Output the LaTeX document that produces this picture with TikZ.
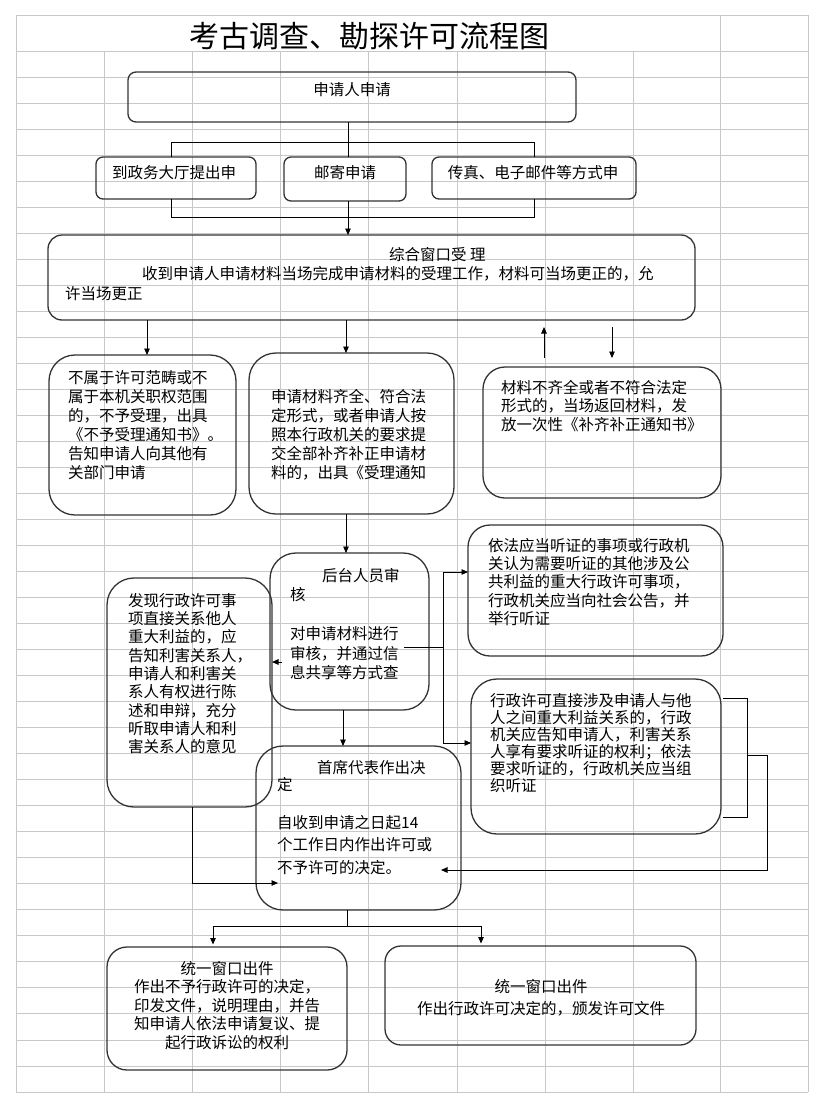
\documentclass[tikz,border=0pt]{standalone}
\usepackage{fontspec}
\setmainfont{Noto Sans CJK SC}
\usetikzlibrary{arrows.meta,calc}
\definecolor{gridc}{HTML}{C8C8C8}
\definecolor{boxc}{HTML}{333333}
\newcommand{\tp}{\rule{0pt}{14pt}}
\begin{document}
\begin{tikzpicture}[x=1pt,y=-1pt,
 box/.style={draw=boxc, line width=1.3pt, inner sep=0pt, outer sep=0pt},
 txt/.style={inner sep=0pt, align=left, anchor=north west},
 ctxt/.style={inner sep=0pt, font=\fontsize{15.5}{19}\selectfont},
 con/.style={draw=black, line width=0.9pt},
 arr/.style={con, -{Triangle[length=6.5pt,width=5.5pt]}},
 gridline/.style={draw=gridc, line width=0.9pt}]
\useasboundingbox (0,0) rectangle (823,1108);
% spreadsheet grid
\foreach \x in {104,192,280,368,457,545,633} \draw[gridline] (\x,51) -- (\x,1092);
\foreach \x in {16,720,808} \draw[gridline] (\x,15) -- (\x,1092);
\draw[gridline] (16,15) -- (808,15);
\foreach \k in {0,...,40} \draw[gridline] (16,{51+26.025*\k}) -- (808,{51+26.025*\k});
% title
\node[inner sep=0pt, font=\fontsize{30}{30}\selectfont] (title) at (369,36) {考古调查、勘探许可流程图};
% boxes
\node[box, minimum width=448pt, minimum height=50pt, rounded corners=8pt] (b1) at (352,97) {};
\node[box, minimum width=160pt, minimum height=42pt, rounded corners=7pt] (b2a) at (176,178) {};
\node[box, minimum width=122pt, minimum height=44pt, rounded corners=7pt] (b2b) at (345,179) {};
\node[box, minimum width=204pt, minimum height=42pt, rounded corners=7pt] (b2c) at (534,178) {};
\node[box, minimum width=647pt, minimum height=85pt, rounded corners=14pt] (b3) at (371.5,277.5) {};
\node[box, minimum width=187pt, minimum height=160pt, rounded corners=26pt] (b4) at (142.5,435) {};
\node[box, minimum width=205pt, minimum height=161pt, rounded corners=27pt] (b5) at (351.5,433.5) {};
\node[box, minimum width=238pt, minimum height=131pt, rounded corners=22pt] (b6) at (602,432.5) {};
\node[box, minimum width=159pt, minimum height=157pt, rounded corners=26pt] (b7) at (349.5,631.5) {};
\node[box, minimum width=165pt, minimum height=229pt, rounded corners=27pt] (b8) at (189.5,692.5) {};
\node[box, minimum width=205pt, minimum height=164pt, rounded corners=27pt] (b9) at (358.5,828) {};
\node[box, minimum width=255pt, minimum height=131pt, rounded corners=22pt] (b10) at (595.5,590.5) {};
\node[box, minimum width=250pt, minimum height=155pt, rounded corners=26pt] (b11) at (596,756.5) {};
\node[box, minimum width=240pt, minimum height=123pt, rounded corners=20pt] (b12) at (227,1008.5) {};
\node[box, minimum width=311pt, minimum height=99pt, rounded corners=16pt] (b13) at (540.5,995.5) {};
% texts
\node[ctxt] (t1) at (352,90) {申请人申请};
\node[ctxt] (t2a) at (174,173) {到政务大厅提出申};
\node[ctxt] (t2b) at (345,173) {邮寄申请};
\node[ctxt] (t2c) at (533,173) {传真、电子邮件等方式申};
\node[txt, font=\fontsize{15.5}{19.5}\selectfont] (t3) at (65,245.9) {\tp\hspace*{324pt}综合窗口受 理\\\hspace*{77pt}收到申请人申请材料当场完成申请材料的受理工作，材料可当场更正的，允\\许当场更正};
\node[txt, font=\fontsize{15.5}{19}\selectfont] (t4) at (68,368.9) {\tp 不属于许可范畴或不\\属于本机关职权范围\\的，不予受理，出具\\《不予受理通知书》。\\告知申请人向其他有\\关部门申请};
\node[txt, font=\fontsize{15.5}{19.2}\selectfont] (t5) at (271,387.9) {\tp 申请材料齐全、符合法\\定形式，或者申请人按\\照本行政机关的要求提\\交全部补齐补正申请材\\料的，出具《受理通知};
\node[txt, font=\fontsize{15.5}{18.7}\selectfont] (t6) at (501,378.9) {\tp 材料不齐全或者不符合法定\\形式的，当场返回材料，发\\放一次性《补齐补正通知书》};
\node[txt, font=\fontsize{15.5}{19.5}\selectfont] (t7) at (290,566.9) {\tp\hspace*{32pt}后台人员审\\核\\[19.5pt]对申请材料进行\\审核，并通过信\\息共享等方式查};
\node[txt, font=\fontsize{15.5}{18.35}\selectfont] (t8) at (128,591.9) {\tp 发现行政许可事\\项直接关系他人\\重大利益的，应\\告知利害关系人，\\申请人和利害关\\系人有权进行陈\\述和申辩，充分\\听取申请人和利\\害关系人的意见};
\node[txt, font=\fontsize{15.5}{17}\selectfont] (t9a) at (277,758.9) {\tp\hspace*{40pt}首席代表作出决\\定};
\node[txt, font=\fontsize{15.5}{22.5}\selectfont] (t9b) at (277,813.9) {\tp 自收到申请之日起14\\个工作日内作出许可或\\不予许可的决定。};
\node[txt, font=\fontsize{15.5}{18.3}\selectfont] (t10) at (488,536.9) {\tp 依法应当听证的事项或行政机\\关认为需要听证的其他涉及公\\共利益的重大行政许可事项，\\行政机关应当向社会公告，并\\举行听证};
\node[txt, font=\fontsize{15.5}{17}\selectfont] (t11) at (490,691.9) {\tp 行政许可直接涉及申请人与他\\人之间重大利益关系的，行政\\机关应告知申请人，利害关系\\人享有要求听证的权利；依法\\要求听证的，行政机关应当组\\织听证};
\node[inner sep=0pt, align=center, anchor=north, font=\fontsize{15.5}{18.5}\selectfont] (t12) at (227,959.9) {\tp 统一窗口出件\\作出不予行政许可的决定，\\印发文件，说明理由，并告\\知申请人依法申请复议、提\\起行政诉讼的权利};
\node[inner sep=0pt, align=center, anchor=north, font=\fontsize{15.5}{22}\selectfont] (t13) at (541,977.9) {\tp 统一窗口出件\\作出行政许可决定的，颁发许可文件};
% connectors
\coordinate (j0) at (348,142);
\coordinate (jl) at (171,142);
\coordinate (jr) at (534,142);
\draw[con] (b1.south -| j0) -- (b2b.north -| j0);
\draw[con] (jl |- b2a.north) -- (jl) -- (jr) -- (jr |- b2c.north);
\coordinate (kl) at (171,217);
\coordinate (kr) at (534,217);
\draw[con] (kl |- b2a.south) -- (kl) -- (kr) -- (kr |- b2c.south);
\draw[arr] (b2b.south -| j0) -- (b3.north -| j0);
\coordinate (xa) at (147,0);
\coordinate (xb) at (346,0);
\draw[arr] (b3.south -| xa) -- (b4.north -| xa);
\draw[arr] (b3.south -| xb) -- (b5.north -| xb);
\coordinate (ua) at (544,358);
\coordinate (ub) at (544,327);
\draw[arr] (ua) -- (ub);
\coordinate (da) at (612,327);
\coordinate (db) at (612,358);
\draw[arr] (da) -- (db);
\draw[arr] (b5.south -| xb) -- (b7.north -| xb);
\coordinate (xc) at (343,0);
\draw[arr] (b7.south -| xc) -- (b9.north -| xc);
\coordinate (s1) at (404,647);
\coordinate (s2) at (443,647);
\draw[con] (s1) -- (s2);
\coordinate (v1) at (443,572);
\coordinate (v2) at (443,743);
\draw[con] (v1) -- (v2);
\draw[arr] (v1) -- (v1 -| b10.west);
\draw[arr] (v2) -- (v2 -| b11.west);
\coordinate (la) at (282,662);
\draw[arr] (la) -- (la -| b8.east);
\coordinate (xd) at (192,0);
\coordinate (e1) at (278,883);
\draw[arr] (b8.south -| xd) |- (e1);
\coordinate (r1) at (723,698);
\coordinate (r2) at (747,698);
\coordinate (r3) at (747,817);
\coordinate (r4) at (723,817);
\draw[con] (r1) -- (r2) -- (r3) -- (r4);
\coordinate (r5) at (747,755);
\coordinate (r6) at (767,755);
\coordinate (r7) at (767,870);
\coordinate (r8) at (441,870);
\draw[arr] (r5) -- (r6) -- (r7) -- (r8);
\coordinate (xe) at (347,0);
\coordinate (m1) at (213,926);
\coordinate (m2) at (481,926);
\draw[con] (b9.south -| xe) -- (xe |- m1);
\draw[con] (m1) -- (m2);
\draw[arr, shorten >=2.5pt] (m1) -- (m1 |- b12.north);
\draw[arr, shorten >=2.5pt] (m2) -- (m2 |- b13.north);
\end{tikzpicture}
\end{document}
